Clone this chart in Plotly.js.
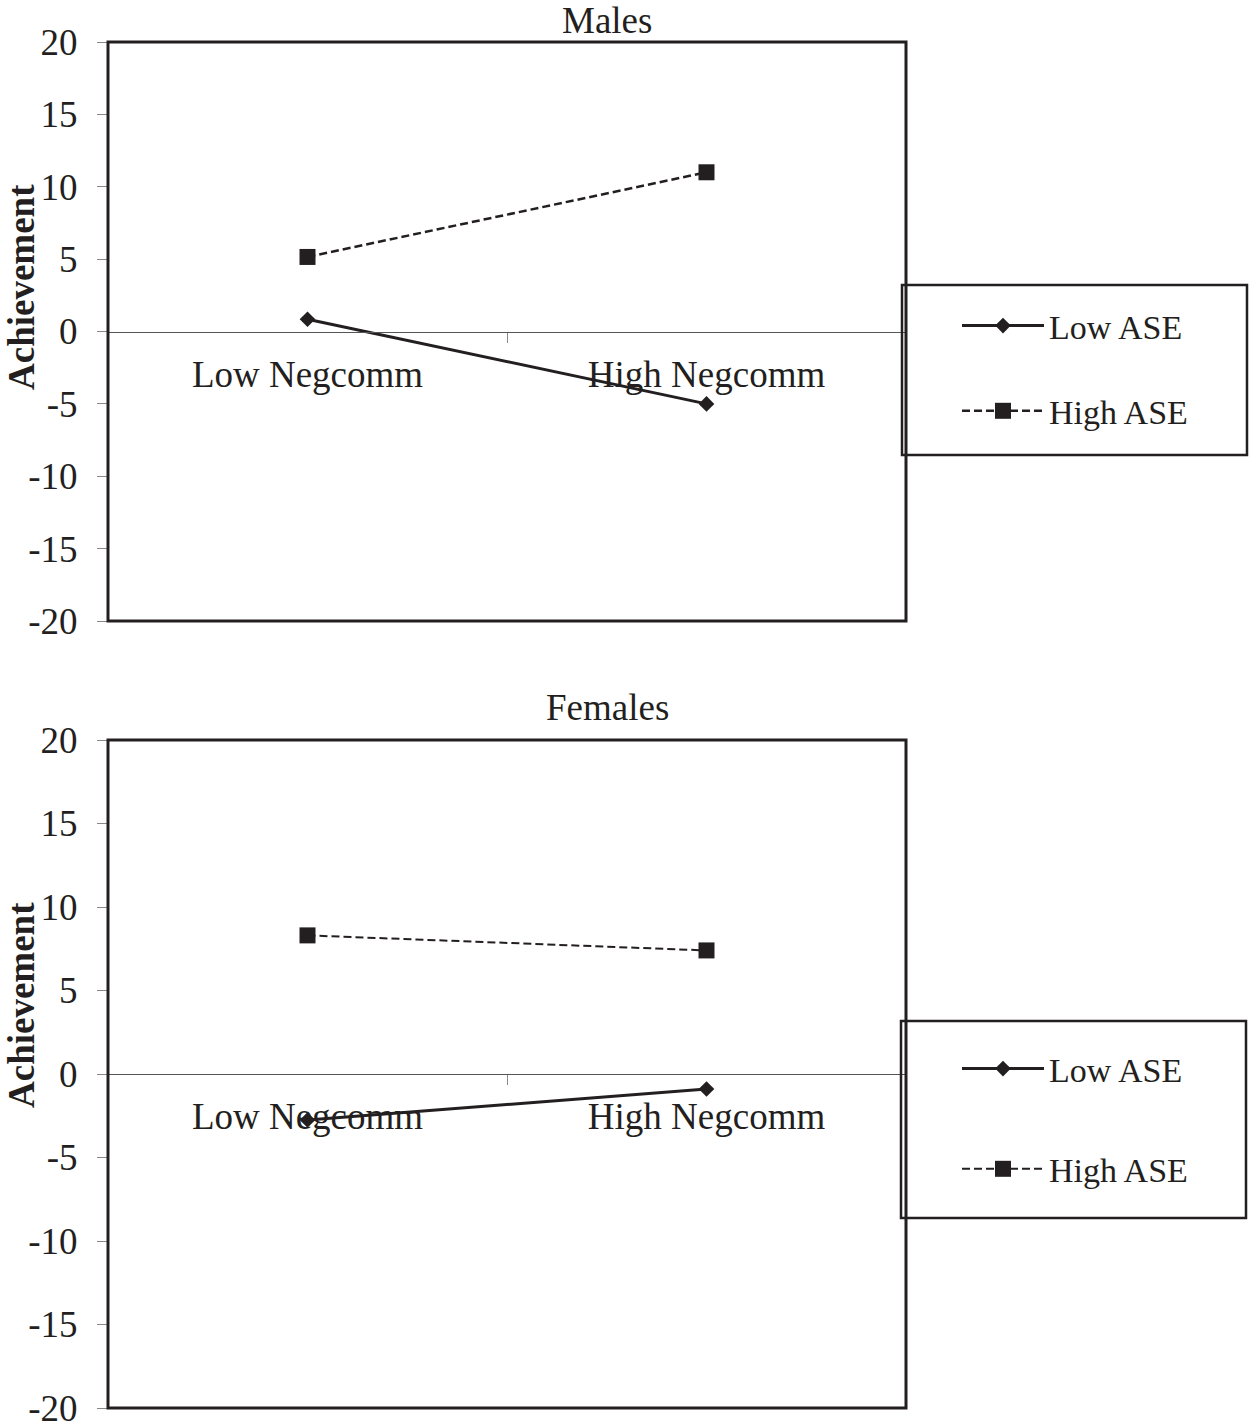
<!DOCTYPE html>
<html>
<head>
<meta charset="utf-8">
<script src="https://cdn.plot.ly/plotly-3.0.1.min.js"></script>
<style>
  body { margin: 0; background: #fff; }
  #chart { width: 1254px; height: 1426px; }
</style>
</head>
<body>
<div id="chart"></div>
<script>
// categories on the x axis
var negcomm = ['Low Negcomm', 'High Negcomm'];

// males
var malesLowASE = [0.85, -5.0];
var malesHighASE = [5.15, 11.0];

// females
var femalesLowASE = [-2.75, -0.9];
var femalesHighASE = [8.3, 7.4];

var yTicks = [-20, -15, -10, -5, 0, 5, 10, 15, 20];
var yTickText = ['-20', '-15', '-10', '-5', '0', '5', '10', '15', '20'];

var ink = '#231F20';
var serif = 'Liberation Serif, Times New Roman, serif';

// page layout in pixels -> paper coords
var L = 108, R = 348, T = 42, B = 18;
var W = 1254 - L - R, H = 1426 - T - B;
function px2x(px) { return (px - L) / W; }
function px2y(py) { return (1426 - B - py) / H; }

var topDomain = [px2y(621), px2y(42)];
var botDomain = [px2y(1408), px2y(740)];

function trace(y, name, xa, ya, leg, dash, symbol, size, width, group) {
    return {
        x: negcomm, y: y, name: name, type: 'scatter', mode: 'lines+markers',
        xaxis: xa, yaxis: ya, legend: leg, legendgroup: group,
        line: {color: ink, width: width, dash: dash},
        marker: {symbol: symbol, size: size, color: ink}
    };
}

var data = [
    trace(malesLowASE, 'Low ASE', 'x', 'y', 'legend', 'solid', 'diamond', 12, 3, 'a'),
    trace(malesHighASE, 'High ASE', 'x', 'y', 'legend', '8px,4px', 'square', 16, 2.5, 'b'),
    trace(femalesLowASE, 'Low ASE', 'x2', 'y2', 'legend2', 'solid', 'diamond', 12, 3, 'c'),
    trace(femalesHighASE, 'High ASE', 'x2', 'y2', 'legend2', '8px,4px', 'square', 16, 2, 'd')
];

// x axis sits on y = 0, so it floats inside the frame
function xAxis(zeroPx) {
    return {
        type: 'category', range: [-0.5, 1.5], domain: [0, 1],
        anchor: 'free', position: px2y(zeroPx),
        showline: true, linecolor: '#555', linewidth: 1,
        ticks: 'outside', tickson: 'boundaries', ticklen: 10, tickcolor: '#888', tickwidth: 1,
        ticklabelstandoff: 10,
        showgrid: false, zeroline: false,
        tickfont: {family: serif, size: 37, color: ink}
    };
}
function yAxis(domain) {
    return {
        range: [-20, 20], domain: domain, tickvals: yTicks, ticktext: yTickText,
        ticks: 'outside', ticklen: 10, tickcolor: '#888', tickwidth: 1,
        ticklabelstandoff: 12, ticklabeloverflow: 'allow',
        showgrid: false, zeroline: false, showline: false,
        tickfont: {family: serif, size: 37, color: ink}
    };
}

function legendBox(x0, y0, x1p, y1p) {
    return {type: 'rect', xref: 'paper', yref: 'paper',
        x0: px2x(x0), x1: px2x(x1p), y0: px2y(y1p), y1: px2y(y0),
        line: {color: ink, width: 2.5}, fillcolor: 'rgba(0,0,0,0)'};
}
function frame(xr, yr) {
    return {type: 'rect', xref: xr + ' domain', yref: yr + ' domain',
        x0: 0, x1: 1, y0: 0, y1: 1, line: {color: ink, width: 3}};
}
function label(text, xpx, ypx, angle) {
    return {text: text, xref: 'paper', yref: 'paper', x: px2x(xpx), y: px2y(ypx),
        xanchor: 'center', yanchor: 'middle', textangle: angle || 0, showarrow: false,
        font: {family: serif, size: 37, color: ink}};
}

var layout = {
    width: 1254, height: 1426,
    margin: {l: L, r: R, t: T, b: B},
    paper_bgcolor: '#fff', plot_bgcolor: '#fff',
    font: {family: serif, color: ink},
    xaxis: xAxis(331.5), yaxis: yAxis(topDomain),
    xaxis2: xAxis(1074), yaxis2: yAxis(botDomain),
    legend: {
        x: px2x(957), y: px2y(297), xanchor: 'left', yanchor: 'top',
        bgcolor: 'rgba(0,0,0,0)', borderwidth: 0,
        font: {family: serif, size: 34, color: ink},
        itemwidth: 82, tracegroupgap: 38, traceorder: 'grouped'
    },
    legend2: {
        x: px2x(957), y: px2y(1040), xanchor: 'left', yanchor: 'top',
        bgcolor: 'rgba(0,0,0,0)', borderwidth: 0,
        font: {family: serif, size: 34, color: ink},
        itemwidth: 82, tracegroupgap: 53, traceorder: 'grouped'
    },
    shapes: [
        frame('x', 'y'), frame('x2', 'y2'),
        legendBox(902, 285, 1247, 455),
        legendBox(901, 1021, 1246, 1218)
    ],
    annotations: [
        label('Males', 607, 20),
        label('Females', 607, 707),
        label('<b>Achievement</b>', 21, 287, -90),
        label('<b>Achievement</b>', 21, 1005, -90)
    ],
    showlegend: true
};

Plotly.newPlot('chart', data, layout, {displayModeBar: false, staticPlot: true});
</script>
</body>
</html>
